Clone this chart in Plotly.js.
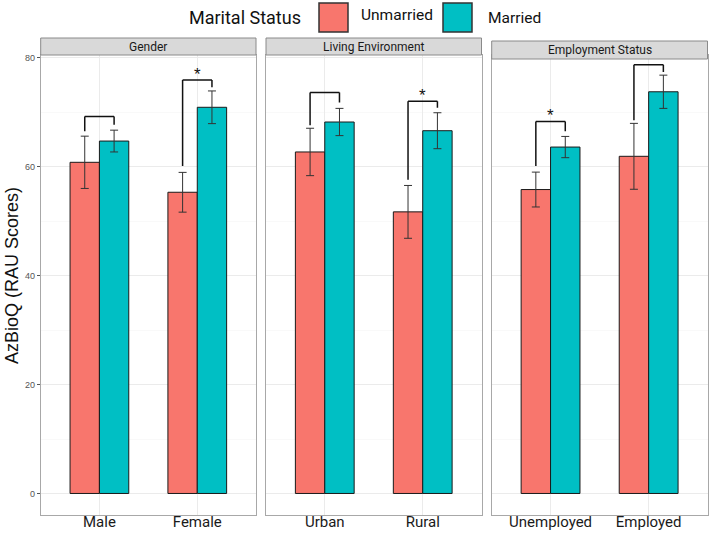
<!DOCTYPE html>
<html>
<head>
<meta charset="utf-8">
<script src="https://cdn.plot.ly/plotly-3.0.1.min.js"></script>
<style>html,body{margin:0;padding:0;background:#fff}#chart{width:709px;height:534px}</style>
</head>
<body>
<div id="chart"></div>
<script>
// ---- data ----
const panels = ['Gender', 'Living Environment', 'Employment Status'];
const categories = ['Male', 'Female', 'Urban', 'Rural', 'Unemployed', 'Employed'];
const panelOf = [0, 0, 1, 1, 2, 2];
const unmarried = [60.8, 55.3, 62.7, 51.7, 55.8, 61.9];
const unmarriedErr = [4.8, 3.65, 4.35, 4.85, 3.2, 6.05];
const married = [64.7, 70.9, 68.2, 66.6, 63.6, 73.75];
const marriedErr = [2.0, 3.0, 2.5, 3.3, 1.95, 3.05];
const bracketTop = [69.2, 75.9, 73.6, 72.0, 68.3, 78.7];
const bracketLeftEnd = [66.5, 60.1, 67.6, 57.6, 60.1, 68.5];
const bracketRightEnd = [67.7, 74.6, 71.8, 70.8, 66.5, 77.4];
const significant = [false, true, false, true, true, false];
const seriesNames = ['Unmarried', 'Married'];
const seriesColors = ['#F8766D', '#00BFC4'];
const yTicks = [0, 20, 40, 60, 80];
const legendTitle = 'Marital Status';
const yTitle = 'AzBioQ (RAU Scores)';

// ---- layout helpers ----
const W = 709, H = 534;
const px = v => v / W;
const py = v => 1 - v / H;
const panelX = [[40.7, 256], [266, 481.5], [491.7, 707.5]];
const plotTop = 55, plotBottom = 515;
const headerY = [[38, 55], [38, 55], [41, 59]];
const barHalf = 0.15;

const axName = i => (i === 0 ? '' : String(i + 1));
const traces = [];
const shapes = [];
const annotations = [];
const layout = {
  width: W, height: H,
  margin: {l: 0, r: 0, t: 0, b: 0},
  paper_bgcolor: '#fff', plot_bgcolor: '#fff',
  barmode: 'group', bargap: 0.4, bargroupgap: 0,
  showlegend: false,
  font: {family: 'Roboto, sans-serif', color: '#1a1a1a'}
};

panels.forEach((p, pi) => {
  const idx = categories.map((c, i) => i).filter(i => panelOf[i] === pi);
  const xs = idx.map((_, k) => k);
  const xa = 'x' + axName(pi), ya = 'y' + axName(pi);
  [[unmarried, unmarriedErr], [married, marriedErr]].forEach(([vals, errs], si) => {
    traces.push({
      type: 'bar', xaxis: xa, yaxis: ya,
      x: xs, y: idx.map(i => vals[i]), name: seriesNames[si],
      marker: {color: seriesColors[si], line: {color: '#1a1a1a', width: 1}},
      error_y: {type: 'data', array: idx.map(i => errs[i]), color: '#333', thickness: 1, width: 4},
      hoverinfo: 'skip'
    });
  });
  layout['xaxis' + axName(pi)] = {
    domain: [px(panelX[pi][0]), px(panelX[pi][1])],
    anchor: ya, range: [-0.6, 1.6],
    tickvals: xs, ticktext: idx.map(i => categories[i]),
    ticks: '', ticklabelstandoff: -7,
    tickfont: {size: 15, color: '#1a1a1a', family: 'Roboto, sans-serif'},
    showgrid: true, gridcolor: '#ebebeb', gridwidth: 1,
    showline: true, mirror: true, linecolor: '#a8a8a8', linewidth: 1,
    zeroline: false, fixedrange: true
  };
  const yax = {
    domain: [py(plotBottom), py(plotTop)],
    anchor: xa, range: [-3.95, 80.5],
    tickmode: 'array', tickvals: yTicks, ticktext: yTicks.map(String),
    showgrid: true, gridcolor: '#ebebeb', gridwidth: 1,
    minor: {tickmode: 'linear', tick0: 10, dtick: 20, showgrid: true, gridcolor: '#f5f5f5', gridwidth: 0.6, ticks: ''},
    showline: true, mirror: true, linecolor: '#a8a8a8', linewidth: 1,
    zeroline: false, fixedrange: true
  };
  if (pi === 0) {
    yax.ticks = 'outside'; yax.ticklen = 3; yax.tickcolor = '#555'; yax.tickwidth = 1;
    yax.tickfont = {size: 9, color: '#555', family: 'Liberation Sans, Arial, sans-serif'};
  } else {
    yax.showticklabels = false; yax.ticks = ''; yax.matches = 'y';
  }
  layout['yaxis' + axName(pi)] = yax;

  // strip header
  shapes.push({type: 'rect', xref: 'paper', yref: 'paper',
    x0: px(panelX[pi][0]), x1: px(panelX[pi][1]), y0: py(headerY[pi][1]), y1: py(headerY[pi][0]),
    fillcolor: '#d9d9d9', line: {color: '#8a8a8a', width: 1}, layer: 'above'});
  annotations.push({xref: 'paper', yref: 'paper', showarrow: false,
    x: px((panelX[pi][0] + panelX[pi][1]) / 2), y: py((headerY[pi][0] + headerY[pi][1]) / 2),
    xanchor: 'center', yanchor: 'middle', text: p,
    font: {size: 12, color: '#1a1a1a', family: 'Roboto, sans-serif'}});

  // significance brackets
  idx.forEach((i, k) => {
    const l = {color: '#111', width: 1.5};
    const xl = k - barHalf, xr = k + barHalf;
    shapes.push({type: 'line', xref: xa, yref: ya, x0: xl, x1: xl, y0: bracketLeftEnd[i], y1: bracketTop[i], line: l});
    shapes.push({type: 'line', xref: xa, yref: ya, x0: xl, x1: xr, y0: bracketTop[i], y1: bracketTop[i], line: l});
    shapes.push({type: 'line', xref: xa, yref: ya, x0: xr, x1: xr, y0: bracketTop[i], y1: bracketRightEnd[i], line: l});
    if (significant[i]) {
      annotations.push({xref: xa, yref: ya, x: k, y: bracketTop[i], showarrow: false,
        xanchor: 'center', yanchor: 'bottom', yshift: -6, text: '*',
        font: {size: 17, color: '#111', family: 'Liberation Sans, Arial, sans-serif'}});
    }
  });
});

// manual legend
annotations.push({xref: 'paper', yref: 'paper', showarrow: false, x: px(187), y: py(18),
  xanchor: 'left', yanchor: 'middle', text: legendTitle,
  font: {size: 18, color: '#111', family: 'Roboto, sans-serif'}});
const legBoxes = [[319, 348], [443, 472]];
const legText = [[359, 15], [486, 18]];
seriesNames.forEach((n, si) => {
  shapes.push({type: 'rect', xref: 'paper', yref: 'paper',
    x0: px(legBoxes[si][0]), x1: px(legBoxes[si][1]), y0: py(32), y1: py(3),
    fillcolor: seriesColors[si], line: {color: '#333', width: 1.5}});
  annotations.push({xref: 'paper', yref: 'paper', showarrow: false,
    x: px(legText[si][0]), y: py(legText[si][1]), xanchor: 'left', yanchor: 'middle', text: n,
    font: {size: 15.5, color: '#111', family: 'Roboto, sans-serif'}});
});

// y-axis title
annotations.push({xref: 'paper', yref: 'paper', showarrow: false, x: px(12), y: py(276),
  xanchor: 'center', yanchor: 'middle', textangle: -90, text: yTitle,
  font: {size: 18, color: '#111', family: 'Liberation Sans, Arial, sans-serif'}});

layout.shapes = shapes;
layout.annotations = annotations;
Plotly.newPlot('chart', traces, layout, {displayModeBar: false, staticPlot: true});
</script>
</body>
</html>
